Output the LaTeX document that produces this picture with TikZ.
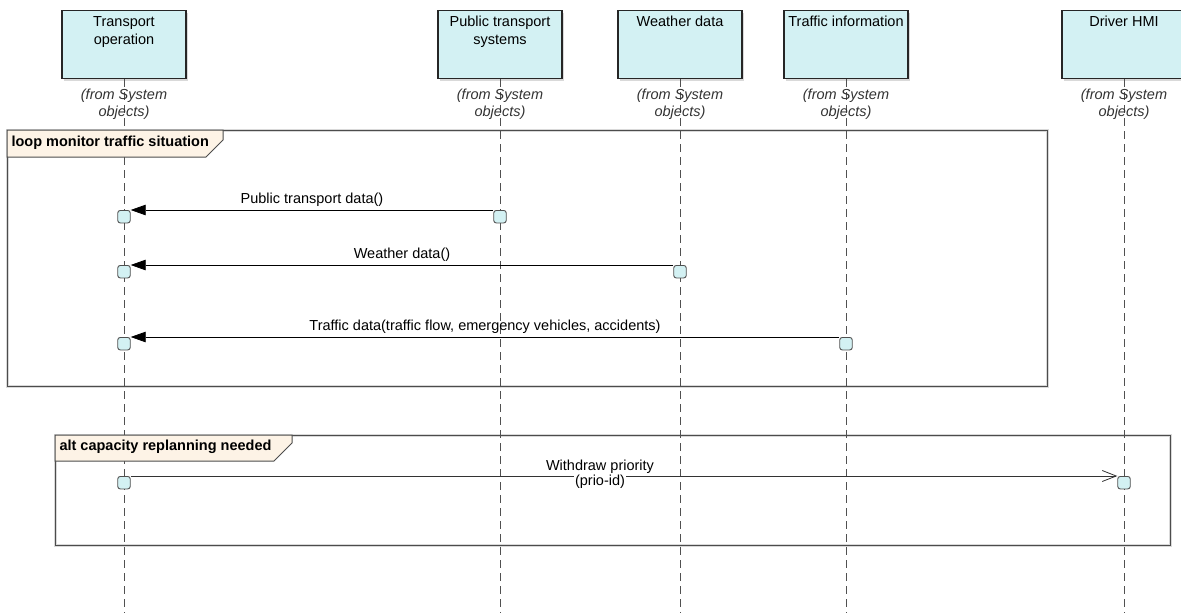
\documentclass[tikz,border=0pt]{standalone}
\usepackage{fontspec}
\setmainfont{Liberation Sans}
\usetikzlibrary{arrows.meta,shadows,calc}
\definecolor{objfill}{HTML}{D3F1F3}
\definecolor{tabfill}{HTML}{FDF3E6}
\definecolor{lineclr}{HTML}{505050}

\begin{document}
\begin{tikzpicture}[x=1pt,y=-1pt,font=\fontsize{14.5}{18}\selectfont]
\tikzset{
  obj/.style={draw=black!85, line width=1.2pt, fill=objfill, minimum width=124pt,
    minimum height=68pt, anchor=north,
    drop shadow={shadow xshift=2pt,shadow yshift=-2pt,opacity=0.3}},
  objtext/.style={anchor=north, align=center, yshift=-2.5pt},
  fromtxt/.style={align=center, font=\fontsize{14.5}{17}\selectfont\itshape, text=black!80},
  lifeline/.style={draw=lineclr, dash pattern=on 8pt off 5pt, line width=0.8pt},
  act/.style={draw=lineclr, fill=objfill, rounded corners=2.5pt, minimum size=12.5pt,
    inner sep=0pt, anchor=north, line width=0.9pt},
  msg/.style={-{Triangle[length=15pt,width=10.5pt]}, line width=0.8pt},
  asyncmsg/.style={-{Straight Barb[length=14pt,width=11pt]}, line width=0.8pt, draw=black!80},
  framebox/.style={draw=black!70, line width=1pt},
  frameshade/.style={draw=gray!30, line width=3pt},
  tab/.style={draw=black!70, fill=tabfill, line width=1pt},
  tabtext/.style={anchor=west, font=\fontsize{14.5}{18}\selectfont\bfseries}
}
\useasboundingbox (0,0) rectangle (1181,613);

% frames
\draw[frameshade] (7,130) rectangle (1047,386);
\draw[framebox] (7,130) rectangle (1047,386);
\draw[frameshade] (55,435) rectangle (1170,545);
\draw[framebox] (55,435) rectangle (1170,545);

% objects
\node[obj, label={[objtext]north:{Transport\\operation}}] (top) at (124,10) {};
\node[obj, label={[objtext]north:{Public transport\\systems}}] (pts) at (500,10) {};
\node[obj, label={[objtext]north:{Weather data}}] (wd) at (680,10) {};
\node[obj, label={[objtext]north:{Traffic information}}] (ti) at (846,10) {};
\node[obj, label={[objtext]north:{Driver HMI}}] (hmi) at (1124,10) {};

% lifelines
\foreach \o in {top,pts,wd,ti,hmi}
  \draw[lifeline] (\o.south) -- (\o.south |- 0,613);

\foreach \o in {top,pts,wd,ti,hmi}
  \node[fromtxt] at ($(\o.south)+(0,25)$) {(from System\\objects)};

% frame tabs
\filldraw[tab] (7,130) -- (223,130) -- (223,140) -- (206,157) -- (7,157) -- cycle;
\node[tabtext] at (8,143) {loop monitor traffic situation};
\filldraw[tab] (55,435) -- (292,435) -- (292,443) -- (274,461) -- (55,461) -- cycle;
\node[tabtext] at (56,447) {alt capacity replanning needed};

% activations
\node[act] (t1) at (124,210) {};
\node[act] (p1) at (500,210) {};
\node[act] (t2) at (124,265) {};
\node[act] (w2) at (680,265) {};
\node[act] (t3) at (124,337) {};
\node[act] (i3) at (846,337) {};
\node[act] (t4) at (124,476) {};
\node[act] (h4) at (1124,476) {};

% messages
\draw[msg] (p1.north west) -- node[above] {Public transport data()} (t1.north east);
\draw[msg] (w2.north west) -- node[above] {Weather data()} (t2.north east);
\draw[msg] (i3.north west) -- node[above] {Traffic data(traffic flow, emergency vehicles, accidents)} (t3.north east);
\draw[asyncmsg] (t4.north east) -- (h4.north west);
\node[fill=white, inner sep=1pt, label={[inner sep=0.5pt]above:Withdraw priority}] (wp) at (600,482) {(prio-id)};

\end{tikzpicture}
\end{document}
